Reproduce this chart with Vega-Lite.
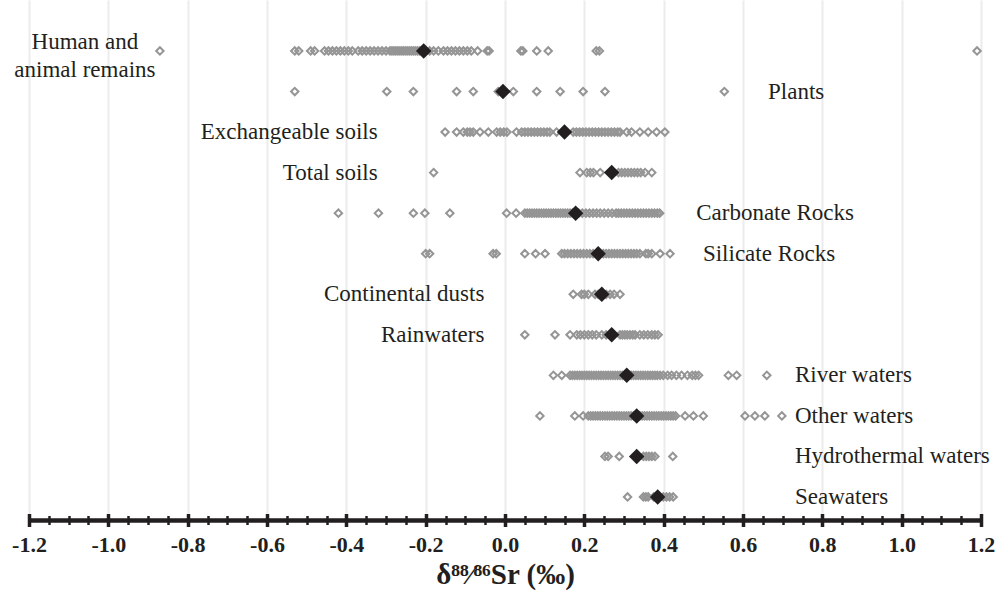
{
  "$schema": "https://vega.github.io/schema/vega-lite/v6.json",
  "width": 952,
  "height": 520,
  "autosize": {"type": "none"},
  "padding": {"left": 29, "top": 0, "right": 14, "bottom": 74},
  "background": "white",
  "config": {"view": {"stroke": null}},
  "datasets": {
    "pts": [
      {"g":"Human and animal remains","v":-0.87},{"g":"Human and animal remains","v":-0.53},{"g":"Human and animal remains","v":-0.52},{"g":"Human and animal remains","v":-0.49},{"g":"Human and animal remains","v":-0.48},{"g":"Human and animal remains","v":-0.455},{"g":"Human and animal remains","v":-0.445},{"g":"Human and animal remains","v":-0.435},{"g":"Human and animal remains","v":-0.425},{"g":"Human and animal remains","v":-0.415},{"g":"Human and animal remains","v":-0.405},{"g":"Human and animal remains","v":-0.395},{"g":"Human and animal remains","v":-0.385},{"g":"Human and animal remains","v":-0.37},{"g":"Human and animal remains","v":-0.36},{"g":"Human and animal remains","v":-0.35},{"g":"Human and animal remains","v":-0.34},{"g":"Human and animal remains","v":-0.33},{"g":"Human and animal remains","v":-0.32},{"g":"Human and animal remains","v":-0.31},{"g":"Human and animal remains","v":-0.3},{"g":"Human and animal remains","v":-0.29},{"g":"Human and animal remains","v":-0.285},{"g":"Human and animal remains","v":-0.28},{"g":"Human and animal remains","v":-0.275},{"g":"Human and animal remains","v":-0.27},{"g":"Human and animal remains","v":-0.265},{"g":"Human and animal remains","v":-0.26},{"g":"Human and animal remains","v":-0.255},{"g":"Human and animal remains","v":-0.25},{"g":"Human and animal remains","v":-0.245},{"g":"Human and animal remains","v":-0.24},{"g":"Human and animal remains","v":-0.235},{"g":"Human and animal remains","v":-0.23},{"g":"Human and animal remains","v":-0.225},{"g":"Human and animal remains","v":-0.22},{"g":"Human and animal remains","v":-0.215},{"g":"Human and animal remains","v":-0.21},{"g":"Human and animal remains","v":-0.2},{"g":"Human and animal remains","v":-0.19},{"g":"Human and animal remains","v":-0.18},{"g":"Human and animal remains","v":-0.168},{"g":"Human and animal remains","v":-0.155},{"g":"Human and animal remains","v":-0.145},{"g":"Human and animal remains","v":-0.135},{"g":"Human and animal remains","v":-0.125},{"g":"Human and animal remains","v":-0.115},{"g":"Human and animal remains","v":-0.105},{"g":"Human and animal remains","v":-0.095},{"g":"Human and animal remains","v":-0.085},{"g":"Human and animal remains","v":-0.069},{"g":"Human and animal remains","v":-0.045},{"g":"Human and animal remains","v":-0.04},{"g":"Human and animal remains","v":0.04},{"g":"Human and animal remains","v":0.045},{"g":"Human and animal remains","v":0.08},{"g":"Human and animal remains","v":0.109},{"g":"Human and animal remains","v":0.23},{"g":"Human and animal remains","v":0.238},{"g":"Human and animal remains","v":1.19},
      {"g":"Plants","v":-0.53},{"g":"Plants","v":-0.298},{"g":"Plants","v":-0.231},{"g":"Plants","v":-0.122},{"g":"Plants","v":-0.08},{"g":"Plants","v":-0.017},{"g":"Plants","v":0.021},{"g":"Plants","v":0.08},{"g":"Plants","v":0.139},{"g":"Plants","v":0.197},{"g":"Plants","v":0.252},{"g":"Plants","v":0.553},
      {"g":"Exchangeable soils","v":-0.151},{"g":"Exchangeable soils","v":-0.122},{"g":"Exchangeable soils","v":-0.105},{"g":"Exchangeable soils","v":-0.095},{"g":"Exchangeable soils","v":-0.088},{"g":"Exchangeable soils","v":-0.08},{"g":"Exchangeable soils","v":-0.063},{"g":"Exchangeable soils","v":-0.042},{"g":"Exchangeable soils","v":-0.021},{"g":"Exchangeable soils","v":-0.012},{"g":"Exchangeable soils","v":-0.003},{"g":"Exchangeable soils","v":0.005},{"g":"Exchangeable soils","v":0.029},{"g":"Exchangeable soils","v":0.042},{"g":"Exchangeable soils","v":0.05},{"g":"Exchangeable soils","v":0.058},{"g":"Exchangeable soils","v":0.066},{"g":"Exchangeable soils","v":0.074},{"g":"Exchangeable soils","v":0.082},{"g":"Exchangeable soils","v":0.09},{"g":"Exchangeable soils","v":0.098},{"g":"Exchangeable soils","v":0.106},{"g":"Exchangeable soils","v":0.113},{"g":"Exchangeable soils","v":0.13},{"g":"Exchangeable soils","v":0.172},{"g":"Exchangeable soils","v":0.18},{"g":"Exchangeable soils","v":0.188},{"g":"Exchangeable soils","v":0.196},{"g":"Exchangeable soils","v":0.204},{"g":"Exchangeable soils","v":0.212},{"g":"Exchangeable soils","v":0.22},{"g":"Exchangeable soils","v":0.228},{"g":"Exchangeable soils","v":0.236},{"g":"Exchangeable soils","v":0.244},{"g":"Exchangeable soils","v":0.252},{"g":"Exchangeable soils","v":0.26},{"g":"Exchangeable soils","v":0.268},{"g":"Exchangeable soils","v":0.276},{"g":"Exchangeable soils","v":0.284},{"g":"Exchangeable soils","v":0.29},{"g":"Exchangeable soils","v":0.307},{"g":"Exchangeable soils","v":0.319},{"g":"Exchangeable soils","v":0.34},{"g":"Exchangeable soils","v":0.361},{"g":"Exchangeable soils","v":0.382},{"g":"Exchangeable soils","v":0.403},
      {"g":"Total soils","v":-0.18},{"g":"Total soils","v":0.189},{"g":"Total soils","v":0.206},{"g":"Total soils","v":0.215},{"g":"Total soils","v":0.223},{"g":"Total soils","v":0.24},{"g":"Total soils","v":0.286},{"g":"Total soils","v":0.294},{"g":"Total soils","v":0.302},{"g":"Total soils","v":0.31},{"g":"Total soils","v":0.318},{"g":"Total soils","v":0.326},{"g":"Total soils","v":0.334},{"g":"Total soils","v":0.342},{"g":"Total soils","v":0.353},{"g":"Total soils","v":0.37},
      {"g":"Carbonate Rocks","v":-0.42},{"g":"Carbonate Rocks","v":-0.319},{"g":"Carbonate Rocks","v":-0.231},{"g":"Carbonate Rocks","v":-0.202},{"g":"Carbonate Rocks","v":-0.139},{"g":"Carbonate Rocks","v":0.004},{"g":"Carbonate Rocks","v":0.028},{"g":"Carbonate Rocks","v":0.05},{"g":"Carbonate Rocks","v":0.056},{"g":"Carbonate Rocks","v":0.062},{"g":"Carbonate Rocks","v":0.068},{"g":"Carbonate Rocks","v":0.074},{"g":"Carbonate Rocks","v":0.08},{"g":"Carbonate Rocks","v":0.086},{"g":"Carbonate Rocks","v":0.092},{"g":"Carbonate Rocks","v":0.098},{"g":"Carbonate Rocks","v":0.104},{"g":"Carbonate Rocks","v":0.11},{"g":"Carbonate Rocks","v":0.116},{"g":"Carbonate Rocks","v":0.122},{"g":"Carbonate Rocks","v":0.128},{"g":"Carbonate Rocks","v":0.134},{"g":"Carbonate Rocks","v":0.14},{"g":"Carbonate Rocks","v":0.146},{"g":"Carbonate Rocks","v":0.152},{"g":"Carbonate Rocks","v":0.158},{"g":"Carbonate Rocks","v":0.164},{"g":"Carbonate Rocks","v":0.17},{"g":"Carbonate Rocks","v":0.186},{"g":"Carbonate Rocks","v":0.195},{"g":"Carbonate Rocks","v":0.204},{"g":"Carbonate Rocks","v":0.213},{"g":"Carbonate Rocks","v":0.222},{"g":"Carbonate Rocks","v":0.231},{"g":"Carbonate Rocks","v":0.24},{"g":"Carbonate Rocks","v":0.25},{"g":"Carbonate Rocks","v":0.26},{"g":"Carbonate Rocks","v":0.27},{"g":"Carbonate Rocks","v":0.28},{"g":"Carbonate Rocks","v":0.286},{"g":"Carbonate Rocks","v":0.293},{"g":"Carbonate Rocks","v":0.3},{"g":"Carbonate Rocks","v":0.307},{"g":"Carbonate Rocks","v":0.314},{"g":"Carbonate Rocks","v":0.321},{"g":"Carbonate Rocks","v":0.328},{"g":"Carbonate Rocks","v":0.335},{"g":"Carbonate Rocks","v":0.342},{"g":"Carbonate Rocks","v":0.349},{"g":"Carbonate Rocks","v":0.356},{"g":"Carbonate Rocks","v":0.363},{"g":"Carbonate Rocks","v":0.37},{"g":"Carbonate Rocks","v":0.377},{"g":"Carbonate Rocks","v":0.384},{"g":"Carbonate Rocks","v":0.39},
      {"g":"Silicate Rocks","v":-0.2},{"g":"Silicate Rocks","v":-0.19},{"g":"Silicate Rocks","v":-0.03},{"g":"Silicate Rocks","v":-0.022},{"g":"Silicate Rocks","v":0.05},{"g":"Silicate Rocks","v":0.077},{"g":"Silicate Rocks","v":0.101},{"g":"Silicate Rocks","v":0.143},{"g":"Silicate Rocks","v":0.15},{"g":"Silicate Rocks","v":0.158},{"g":"Silicate Rocks","v":0.166},{"g":"Silicate Rocks","v":0.174},{"g":"Silicate Rocks","v":0.182},{"g":"Silicate Rocks","v":0.19},{"g":"Silicate Rocks","v":0.198},{"g":"Silicate Rocks","v":0.206},{"g":"Silicate Rocks","v":0.214},{"g":"Silicate Rocks","v":0.222},{"g":"Silicate Rocks","v":0.248},{"g":"Silicate Rocks","v":0.255},{"g":"Silicate Rocks","v":0.262},{"g":"Silicate Rocks","v":0.269},{"g":"Silicate Rocks","v":0.276},{"g":"Silicate Rocks","v":0.283},{"g":"Silicate Rocks","v":0.29},{"g":"Silicate Rocks","v":0.297},{"g":"Silicate Rocks","v":0.304},{"g":"Silicate Rocks","v":0.311},{"g":"Silicate Rocks","v":0.318},{"g":"Silicate Rocks","v":0.325},{"g":"Silicate Rocks","v":0.332},{"g":"Silicate Rocks","v":0.34},{"g":"Silicate Rocks","v":0.355},{"g":"Silicate Rocks","v":0.361},{"g":"Silicate Rocks","v":0.37},{"g":"Silicate Rocks","v":0.391},{"g":"Silicate Rocks","v":0.416},
      {"g":"Continental dusts","v":0.172},{"g":"Continental dusts","v":0.193},{"g":"Continental dusts","v":0.2},{"g":"Continental dusts","v":0.21},{"g":"Continental dusts","v":0.227},{"g":"Continental dusts","v":0.235},{"g":"Continental dusts","v":0.255},{"g":"Continental dusts","v":0.265},{"g":"Continental dusts","v":0.275},{"g":"Continental dusts","v":0.29},
      {"g":"Rainwaters","v":0.05},{"g":"Rainwaters","v":0.126},{"g":"Rainwaters","v":0.164},{"g":"Rainwaters","v":0.181},{"g":"Rainwaters","v":0.19},{"g":"Rainwaters","v":0.2},{"g":"Rainwaters","v":0.21},{"g":"Rainwaters","v":0.22},{"g":"Rainwaters","v":0.23},{"g":"Rainwaters","v":0.244},{"g":"Rainwaters","v":0.255},{"g":"Rainwaters","v":0.29},{"g":"Rainwaters","v":0.296},{"g":"Rainwaters","v":0.302},{"g":"Rainwaters","v":0.308},{"g":"Rainwaters","v":0.315},{"g":"Rainwaters","v":0.322},{"g":"Rainwaters","v":0.328},{"g":"Rainwaters","v":0.34},{"g":"Rainwaters","v":0.35},{"g":"Rainwaters","v":0.36},{"g":"Rainwaters","v":0.37},{"g":"Rainwaters","v":0.378},{"g":"Rainwaters","v":0.386},
      {"g":"River waters","v":0.122},{"g":"River waters","v":0.143},{"g":"River waters","v":0.164},{"g":"River waters","v":0.17},{"g":"River waters","v":0.176},{"g":"River waters","v":0.182},{"g":"River waters","v":0.188},{"g":"River waters","v":0.194},{"g":"River waters","v":0.2},{"g":"River waters","v":0.206},{"g":"River waters","v":0.212},{"g":"River waters","v":0.218},{"g":"River waters","v":0.224},{"g":"River waters","v":0.23},{"g":"River waters","v":0.236},{"g":"River waters","v":0.242},{"g":"River waters","v":0.248},{"g":"River waters","v":0.254},{"g":"River waters","v":0.26},{"g":"River waters","v":0.266},{"g":"River waters","v":0.272},{"g":"River waters","v":0.278},{"g":"River waters","v":0.284},{"g":"River waters","v":0.29},{"g":"River waters","v":0.296},{"g":"River waters","v":0.302},{"g":"River waters","v":0.312},{"g":"River waters","v":0.318},{"g":"River waters","v":0.324},{"g":"River waters","v":0.33},{"g":"River waters","v":0.336},{"g":"River waters","v":0.342},{"g":"River waters","v":0.348},{"g":"River waters","v":0.354},{"g":"River waters","v":0.36},{"g":"River waters","v":0.366},{"g":"River waters","v":0.372},{"g":"River waters","v":0.378},{"g":"River waters","v":0.384},{"g":"River waters","v":0.391},{"g":"River waters","v":0.399},{"g":"River waters","v":0.41},{"g":"River waters","v":0.42},{"g":"River waters","v":0.432},{"g":"River waters","v":0.445},{"g":"River waters","v":0.46},{"g":"River waters","v":0.472},{"g":"River waters","v":0.48},{"g":"River waters","v":0.488},{"g":"River waters","v":0.563},{"g":"River waters","v":0.584},{"g":"River waters","v":0.66},
      {"g":"Other waters","v":0.088},{"g":"Other waters","v":0.176},{"g":"Other waters","v":0.197},{"g":"Other waters","v":0.21},{"g":"Other waters","v":0.216},{"g":"Other waters","v":0.222},{"g":"Other waters","v":0.228},{"g":"Other waters","v":0.234},{"g":"Other waters","v":0.24},{"g":"Other waters","v":0.246},{"g":"Other waters","v":0.252},{"g":"Other waters","v":0.258},{"g":"Other waters","v":0.264},{"g":"Other waters","v":0.27},{"g":"Other waters","v":0.276},{"g":"Other waters","v":0.282},{"g":"Other waters","v":0.288},{"g":"Other waters","v":0.294},{"g":"Other waters","v":0.3},{"g":"Other waters","v":0.306},{"g":"Other waters","v":0.312},{"g":"Other waters","v":0.318},{"g":"Other waters","v":0.324},{"g":"Other waters","v":0.34},{"g":"Other waters","v":0.346},{"g":"Other waters","v":0.352},{"g":"Other waters","v":0.358},{"g":"Other waters","v":0.364},{"g":"Other waters","v":0.37},{"g":"Other waters","v":0.376},{"g":"Other waters","v":0.382},{"g":"Other waters","v":0.388},{"g":"Other waters","v":0.394},{"g":"Other waters","v":0.4},{"g":"Other waters","v":0.406},{"g":"Other waters","v":0.412},{"g":"Other waters","v":0.418},{"g":"Other waters","v":0.424},{"g":"Other waters","v":0.43},{"g":"Other waters","v":0.454},{"g":"Other waters","v":0.475},{"g":"Other waters","v":0.5},{"g":"Other waters","v":0.605},{"g":"Other waters","v":0.63},{"g":"Other waters","v":0.655},{"g":"Other waters","v":0.698},
      {"g":"Hydrothermal waters","v":0.252},{"g":"Hydrothermal waters","v":0.26},{"g":"Hydrothermal waters","v":0.288},{"g":"Hydrothermal waters","v":0.349},{"g":"Hydrothermal waters","v":0.356},{"g":"Hydrothermal waters","v":0.363},{"g":"Hydrothermal waters","v":0.37},{"g":"Hydrothermal waters","v":0.378},{"g":"Hydrothermal waters","v":0.423},
      {"g":"Seawaters","v":0.309},{"g":"Seawaters","v":0.349},{"g":"Seawaters","v":0.355},{"g":"Seawaters","v":0.361},{"g":"Seawaters","v":0.375},{"g":"Seawaters","v":0.399},{"g":"Seawaters","v":0.407},{"g":"Seawaters","v":0.415},{"g":"Seawaters","v":0.424}
    ],
    "means": [
      {"g":"Human and animal remains","v":-0.205},{"g":"Plants","v":-0.005},{"g":"Exchangeable soils","v":0.15},{"g":"Total soils","v":0.269},{"g":"Carbonate Rocks","v":0.178},{"g":"Silicate Rocks","v":0.235},{"g":"Continental dusts","v":0.244},{"g":"Rainwaters","v":0.269},{"g":"River waters","v":0.307},{"g":"Other waters","v":0.332},{"g":"Hydrothermal waters","v":0.332},{"g":"Seawaters","v":0.385}
    ],
    "labR": [
      {"g":"Exchangeable soils","v":-0.321,"label":"Exchangeable soils"},{"g":"Total soils","v":-0.321,"label":"Total soils"},{"g":"Continental dusts","v":-0.052,"label":"Continental dusts"},{"g":"Rainwaters","v":-0.052,"label":"Rainwaters"}
    ],
    "labL": [
      {"g":"Plants","v":0.663,"label":"Plants"},{"g":"Carbonate Rocks","v":0.482,"label":"Carbonate Rocks"},{"g":"Silicate Rocks","v":0.499,"label":"Silicate Rocks"},{"g":"River waters","v":0.731,"label":"River waters"},{"g":"Other waters","v":0.731,"label":"Other waters"},{"g":"Hydrothermal waters","v":0.731,"label":"Hydrothermal waters"},{"g":"Seawaters","v":0.731,"label":"Seawaters"}
    ],
    "labC": [
      {"g":"Human and animal remains","v":-1.059,"label":"Human and\nanimal remains"}
    ]
  },
  "encoding": {
    "y": {"field": "g", "type": "nominal", "axis": null,
      "scale": {"type": "point", "padding": 0.9125, "align": 0.689,
        "domain": ["Human and animal remains","Plants","Exchangeable soils","Total soils","Carbonate Rocks","Silicate Rocks","Continental dusts","Rainwaters","River waters","Other waters","Hydrothermal waters","Seawaters"]}}
  },
  "resolve": {"axis": {"x": "independent"}},
  "layer": [
    {
      "data": {"name": "pts"},
      "mark": {"type": "point", "shape": "diamond", "filled": false, "stroke": "#959595", "strokeWidth": 2, "size": 55, "opacity": 1},
      "encoding": {
        "x": {"field": "v", "type": "quantitative",
          "scale": {"domain": [-1.2, 1.2], "nice": false, "zero": false},
          "axis": {"orient": "bottom", "values": [-1.2,-1.0,-0.8,-0.6,-0.4,-0.2,0,0.2,0.4,0.6,0.8,1.0,1.2],
            "labelExpr": "(datum.value < 0 ? '-' : '') + format(abs(datum.value), '.1f')",
            "domain": true, "domainColor": "#231f20", "domainWidth": 4.5,
            "ticks": false, "grid": true, "gridColor": "#ececec", "gridWidth": 2,
            "labelFont": "Liberation Serif", "labelFontWeight": "bold", "labelFontSize": 22, "labelColor": "#231f20", "labelPadding": 14, "labelFlush": false,
            "title": "δ⁸⁸⁄⁸⁶Sr (‰)", "titleFont": "Liberation Serif", "titleFontSize": 29, "titleFontWeight": "bold", "titleColor": "#231f20", "titlePadding": 5}
        }
      }
    },
    {
      "data": {"name": "means"},
      "mark": {"type": "point", "shape": "diamond", "filled": true, "color": "#231f20", "size": 240, "opacity": 1, "strokeWidth": 0},
      "encoding": {
        "x": {"field": "v", "type": "quantitative",
          "scale": {"domain": [-1.2, 1.2], "nice": false, "zero": false},
          "axis": {"orient": "bottom", "values": [-1.2,-1.0,-0.8,-0.6,-0.4,-0.2,0,0.2,0.4,0.6,0.8,1.0,1.2],
            "domain": false, "grid": false, "labels": false, "title": null,
            "ticks": true, "tickSize": 13, "tickWidth": 3.5, "tickColor": "#231f20", "offset": -6.5}
        }
      }
    },
    {
      "data": {"name": "labR"},
      "mark": {"type": "text", "align": "right", "baseline": "middle", "font": "Liberation Serif", "fontSize": 23, "color": "#231f20"},
      "encoding": {
        "x": {"field": "v", "type": "quantitative",
          "scale": {"domain": [-1.2, 1.2], "nice": false, "zero": false},
          "axis": {"orient": "bottom", "values": [-1.2,-1.15,-1.1,-1.05,-1.0,-0.95,-0.9,-0.85,-0.8,-0.75,-0.7,-0.65,-0.6,-0.55,-0.5,-0.45,-0.4,-0.35,-0.3,-0.25,-0.2,-0.15,-0.1,-0.05,0,0.05,0.1,0.15,0.2,0.25,0.3,0.35,0.4,0.45,0.5,0.55,0.6,0.65,0.7,0.75,0.8,0.85,0.9,0.95,1.0,1.05,1.1,1.15,1.2],
            "domain": false, "grid": false, "labels": false, "title": null,
            "ticks": true, "tickSize": 9, "tickWidth": 2.5, "tickColor": "#231f20", "offset": -4.5}
        },
        "text": {"field": "label"}
      }
    },
    {
      "data": {"name": "labL"},
      "mark": {"type": "text", "align": "left", "baseline": "middle", "font": "Liberation Serif", "fontSize": 23, "color": "#231f20"},
      "encoding": {
        "x": {"field": "v", "type": "quantitative", "scale": {"domain": [-1.2, 1.2], "nice": false, "zero": false}, "axis": null},
        "text": {"field": "label"}
      }
    },
    {
      "data": {"name": "labC"},
      "mark": {"type": "text", "align": "center", "baseline": "middle", "font": "Liberation Serif", "fontSize": 23, "color": "#231f20", "lineBreak": "\n", "lineHeight": 28, "dy": -9},
      "encoding": {
        "x": {"field": "v", "type": "quantitative", "scale": {"domain": [-1.2, 1.2], "nice": false, "zero": false}, "axis": null},
        "text": {"field": "label"}
      }
    }
  ]
}
